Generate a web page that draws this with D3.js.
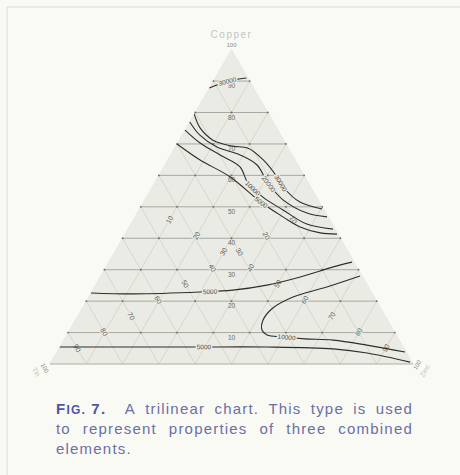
<!DOCTYPE html>
<html><head><meta charset="utf-8">
<script src="https://cdn.jsdelivr.net/npm/d3@7"></script>
<style>
html,body{margin:0;padding:0;background:#fafaf5;}
svg{display:block}
</style></head><body>
<svg id="chart" width="460" height="475"></svg>
<script>
// Corner components: top, left, right
const cornerNames = ["Copper", "Tin", "Zinc"];
// Grid levels (percent) for each of the three families of lines
const gridLevels = [10, 20, 30, 40, 50, 60, 70, 80, 90];
const copperTickLabels = ["10", "20", "30", "40", "50", "60", "70", "80", "90"];
const zincTickLabels = ["10", "20", "30", "40", "50", "60", "70", "80", "90"];
const tinTickLabels = ["10", "20", "30", "40", "50", "60", "70", "80", "90"];

// Strength contours, points given as [copper %, zinc %]; tin makes up the rest
const contourTop30000 = [[87.8, 0], [89.6, 3.2], [90.5, 6], [91, 8.6]];
const contourUpper30000 = [[79.5, 0], [75.1, 3.8], [71.2, 9.3], [69.3, 15.7], [68.7, 20.1], [64.9, 26.3], [59.5, 32.8], [56.3, 36.1], [51.5, 43.1], [49.3, 50.3]];
const contourUpper20000 = [[77.0, 0], [72.8, 4.9], [69.0, 11.5], [66.5, 19.1], [63.3, 25.4], [57.9, 30.9], [52.2, 38.1], [48.0, 46.8], [46.8, 52.9]];
const contourUpper10000 = [[74.4, 0], [70.3, 6.2], [66.5, 13.6], [62.7, 21.0], [57.6, 25.7], [53.1, 32.1], [49.0, 39.7], [44.5, 48.5], [42.9, 56.5]];
const contourUpper5000 = [[70.0, 0], [64.9, 8.9], [59.5, 19.9], [51.2, 32.8], [46.8, 40.8], [43.6, 47.1], [41.7, 53.6], [41.3, 58.4]];
const contourMiddle5000 = [[22.6, 0], [22.3, 11.8], [22.9, 29.9], [23.5, 38.6], [25.1, 47.2], [27.7, 55.1], [30.9, 62.6], [32.4, 67.0]];
const contourLoop10000 = [[28.0, 71.4], [24.5, 64.0], [21.3, 56.3], [17.8, 52.5], [14.0, 51.7], [10.8, 53.0], [9.2, 55.2], [8.6, 59.9], [8.0, 66.2], [7.6, 74.2], [6.0, 84.3], [3.8, 95.9]];
const contourLower5000 = [[5.4, 0], [5.4, 20.2], [5.4, 37.3], [5.4, 57.1], [4.8, 75.6], [3.5, 85.6], [0.6, 98.9]];

const contourValues = ["30000", "30000", "20000", "10000", "5000", "5000", "10000", "5000"];
const contourPoints = [contourTop30000, contourUpper30000, contourUpper20000, contourUpper10000,
  contourUpper5000, contourMiddle5000, contourLoop10000, contourLower5000];
// where along each curve its value is written (fraction of length)
const contourLabelAt = [0.5, 0.7, 0.6, 0.5, 0.55, 0.45, 0.55, 0.41];

const svg = d3.select("#chart");
const W = 460, H = 475;

// frame
svg.append("path")
  .attr("d", "M7,475 V7 H460")
  .attr("fill", "none").attr("stroke", "#dcdcd4").attr("stroke-width", 1);

// ternary projection through linear scales
const left = 50, right = 413, base = 364;
const side = right - left;
const height = side * Math.sqrt(3) / 2;
const yScale = d3.scaleLinear().domain([0, 100]).range([base, base - height]);
const xScale = d3.scaleLinear().domain([0, 100]).range([left, right]);
const project = (cu, zn) => [xScale(zn + cu / 2), yScale(cu)];

const g = svg.append("g");

// triangle area
const corners = [project(100, 0), project(0, 0), project(0, 100)];
g.append("path")
  .attr("d", d3.line()(corners) + "Z")
  .attr("fill", "#ebebe5").attr("stroke", "#e2e2dc").attr("stroke-width", 0.6);

// diagonal grid lines: zinc constant and tin constant
const diag = g.append("g").attr("stroke", "#c8c8c0").attr("stroke-width", 0.6).attr("fill", "none");
gridLevels.forEach(v => {
  diag.append("path").attr("d", d3.line()([project(0, v), project(100 - v, v)]));
  diag.append("path").attr("d", d3.line()([project(0, 100 - v), project(100 - v, 0)]));
});

// horizontal copper lines
const horiz = g.append("g").attr("stroke", "#8c8c84").attr("stroke-width", 0.7).attr("fill", "none");
gridLevels.forEach(v => {
  horiz.append("path").attr("d", d3.line()([project(v, 0), project(v, 100 - v)]));
});
// base line
g.append("path").attr("d", d3.line()([project(0, 0), project(0, 100)]))
  .attr("stroke", "#a4a49c").attr("stroke-width", 0.8);

// lattice points on the copper lines
const dots = [];
gridLevels.forEach(cu => {
  for (let zn = 0; zn <= 100 - cu; zn += 10) dots.push(project(cu, zn));
});
g.append("g").selectAll("circle").data(dots).join("circle")
  .attr("cx", d => d[0]).attr("cy", d => d[1]).attr("r", 0.9).attr("fill", "#6d6d66");

const labelFont = "'Liberation Sans', Arial, sans-serif";
const halo = "#ebebe5";

// copper scale labels down the middle
g.append("g").selectAll("text").data(gridLevels).join("text")
  .attr("x", d => project(d, (100 - d) / 2)[0])
  .attr("y", d => project(d, 0)[1] + 7)
  .attr("text-anchor", "middle")
  .attr("font-family", labelFont).attr("font-size", 6.5).attr("fill", "#6a6a62")
  .text((d, i) => copperTickLabels[i]);

// zinc and tin labels, written along their own lines
const tickPos = v => 51 - 0.51 * v;
const zincG = g.append("g");
gridLevels.forEach((v, i) => {
  const cu = tickPos(v);
  const p = project(cu, v);
  zincG.append("text")
    .attr("transform", `translate(${p[0]},${p[1]}) rotate(-60)`)
    .attr("text-anchor", "middle").attr("dy", "0.35em")
    .attr("font-family", labelFont).attr("font-size", 7).attr("fill", "#5e5e57")
    .attr("stroke", halo).attr("stroke-width", 2).attr("paint-order", "stroke")
    .text(zincTickLabels[i]);
});
const tinG = g.append("g");
gridLevels.forEach((v, i) => {
  const cu = tickPos(v);
  const p = project(cu, 100 - cu - v);
  tinG.append("text")
    .attr("transform", `translate(${p[0]},${p[1]}) rotate(60)`)
    .attr("text-anchor", "middle").attr("dy", "0.35em")
    .attr("font-family", labelFont).attr("font-size", 7).attr("fill", "#5e5e57")
    .attr("stroke", halo).attr("stroke-width", 2).attr("paint-order", "stroke")
    .text(tinTickLabels[i]);
});

// contours
const curve = d3.line()
  .x(d => project(d[0], d[1])[0])
  .y(d => project(d[0], d[1])[1])
  .curve(d3.curveCatmullRom.alpha(0.5));
const contourG = g.append("g");
contourPoints.forEach((pts, i) => {
  const path = contourG.append("path")
    .attr("d", curve(pts))
    .attr("fill", "none").attr("stroke", "#2e2e2a").attr("stroke-width", 1.1);
  const node = path.node();
  const len = node.getTotalLength();
  const at = len * contourLabelAt[i];
  const a = node.getPointAtLength(Math.max(0, at - 4));
  const b = node.getPointAtLength(Math.min(len, at + 4));
  const c = node.getPointAtLength(at);
  const ang = Math.atan2(b.y - a.y, b.x - a.x) * 180 / Math.PI;
  contourG.append("text")
    .attr("transform", `translate(${c.x},${c.y}) rotate(${ang})`)
    .attr("text-anchor", "middle").attr("dy", "0.35em")
    .attr("font-family", labelFont).attr("font-size", 6.5).attr("fill", "#4a4a44")
    .attr("stroke", halo).attr("stroke-width", 2.6).attr("paint-order", "stroke")
    .text(contourValues[i]);
});

// corner names
const apex = project(100, 0);
svg.append("text").attr("x", apex[0]).attr("y", apex[1] - 12)
  .attr("text-anchor", "middle").attr("font-family", labelFont).attr("font-size", 10)
  .attr("letter-spacing", 1.5).attr("fill", "#c4c4be").text(cornerNames[0]);
svg.append("text").attr("x", apex[0]).attr("y", apex[1] - 3)
  .attr("text-anchor", "middle").attr("font-family", labelFont).attr("font-size", 6)
  .attr("fill", "#8a8a84").text("100");
const bl = project(0, 0), br = project(0, 100);
svg.append("text").attr("transform", `translate(${bl[0] - 7},${bl[1] + 5}) rotate(60)`)
  .attr("text-anchor", "middle").attr("font-family", labelFont).attr("font-size", 6)
  .attr("fill", "#8a8a84").text("100");
svg.append("text").attr("transform", `translate(${bl[0] - 16},${bl[1] + 9}) rotate(60)`)
  .attr("text-anchor", "middle").attr("font-family", labelFont).attr("font-size", 7)
  .attr("fill", "#c4c4be").text(cornerNames[1]);
svg.append("text").attr("transform", `translate(${br[0] + 6},${br[1] + 2}) rotate(-60)`)
  .attr("text-anchor", "middle").attr("font-family", labelFont).attr("font-size", 6)
  .attr("fill", "#8a8a84").text("100");
svg.append("text").attr("transform", `translate(${br[0] + 14},${br[1] + 8}) rotate(-60)`)
  .attr("text-anchor", "middle").attr("font-family", labelFont).attr("font-size", 7)
  .attr("fill", "#c4c4be").text(cornerNames[2]);

// caption, justified between the margins
const capLeft = 56, capRight = 413;
const capFont = "'Liberation Sans', Arial, sans-serif";
const capLines = [
  { y: 414, justify: true, words: ["A", "trilinear", "chart.", "This", "type", "is", "used"], prefix: true },
  { y: 434, justify: true, words: ["to", "represent", "properties", "of", "three", "combined"] },
  { y: 454, justify: false, words: ["elements."] }
];
const cap = svg.append("g").attr("font-family", capFont).attr("font-size", 15).attr("letter-spacing", 1.2);
capLines.forEach(line => {
  const items = [];
  if (line.prefix) {
    const t = cap.append("text").attr("y", line.y).attr("fill", "#4d56a6").attr("font-weight", "bold");
    t.append("tspan").text("F");
    t.append("tspan").attr("font-size", 12).text("IG.");
    t.append("tspan").text(" 7.");
    items.push({ node: t, w: t.node().getComputedTextLength(), gapWeight: 2 });
  }
  line.words.forEach(w => {
    const t = cap.append("text").attr("y", line.y).attr("fill", "#6b6fa6").text(w);
    items.push({ node: t, w: t.node().getComputedTextLength(), gapWeight: 1 });
  });
  const total = d3.sum(items, d => d.w);
  const weights = d3.sum(items.slice(0, -1), d => d.gapWeight);
  const unit = line.justify ? (capRight - capLeft - total) / weights : 5;
  let x = capLeft;
  items.forEach(it => {
    it.node.attr("x", x);
    x += it.w + unit * it.gapWeight;
  });
});
</script>
</body></html>
